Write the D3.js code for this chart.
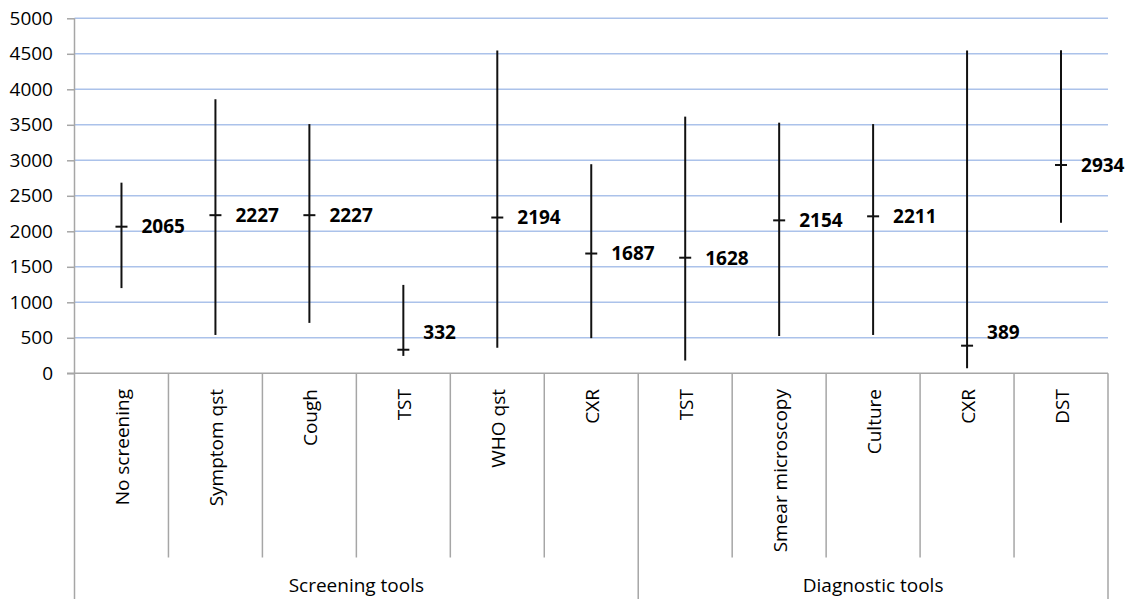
<!DOCTYPE html>
<html>
<head>
<meta charset="utf-8">
<script src="https://cdn.jsdelivr.net/npm/d3@7"></script>
<style>
  html, body { margin: 0; padding: 0; background: #fff; }
  svg { display: block; }
  text { font-family: "Open Sans", "DejaVu Sans", sans-serif; }
</style>
</head>
<body>
<svg id="chart" width="1128" height="599"></svg>
<script>
// Cost ranges per tool: low, high and central estimate
const categories = ["No screening", "Symptom qst", "Cough", "TST", "WHO qst", "CXR",
                    "TST", "Smear microscopy", "Culture", "CXR", "DST"];
const groupNames = ["Screening tools", "Diagnostic tools"];
const groupSizes = [6, 5];
const lowValues  = [1200, 540, 710, 245, 360, 495, 180, 525, 540, 70, 2120];
const highValues = [2685, 3860, 3510, 1245, 4545, 2945, 3615, 3530, 3510, 4545, 4550];
const midValues  = [2065, 2227, 2227, 332, 2194, 1687, 1628, 2154, 2211, 389, 2934];
const yTicks = [0, 500, 1000, 1500, 2000, 2500, 3000, 3500, 4000, 4500, 5000];

const svg = d3.select("#chart");
const plotLeft = 74.5, plotRight = 1108, plotTop = 18.3, plotBottom = 373.3, boxBottom = 599;

const idx = categories.map((_, i) => i);
const x = d3.scaleBand().domain(idx).range([plotLeft, plotRight]).paddingInner(0).paddingOuter(0);
const y = d3.scaleLinear().domain([0, 5000]).range([plotBottom, plotTop]);

const gridColor = "#abc2ea";
const axisColor = "#a6a6a6";

// horizontal gridlines
svg.append("g")
  .selectAll("line")
  .data(yTicks.filter(t => t > 0))
  .join("line")
  .attr("x1", plotLeft).attr("x2", plotRight)
  .attr("y1", d => y(d)).attr("y2", d => y(d))
  .attr("stroke", gridColor)
  .attr("stroke-width", 1.4);

// value axis
const yAxis = d3.axisLeft(y).tickValues(yTicks).tickSize(7.5).tickPadding(14).tickFormat(d3.format("d"));
const gy = svg.append("g").attr("transform", `translate(${plotLeft},0)`).call(yAxis);
gy.select(".domain").remove();
gy.selectAll(".tick line").attr("stroke", axisColor).attr("stroke-width", 1.5);
gy.selectAll(".tick text")
  .attr("fill", "#000")
  .style("font-size", "19px")
  .style("font-family", "'Open Sans', sans-serif");

// axis frame: left spine and category baseline
svg.append("line")
  .attr("x1", plotLeft).attr("x2", plotLeft).attr("y1", plotTop).attr("y2", boxBottom)
  .attr("stroke", axisColor).attr("stroke-width", 1.5);
svg.append("line")
  .attr("x1", plotLeft - 7.5).attr("x2", plotRight).attr("y1", plotBottom).attr("y2", plotBottom)
  .attr("stroke", axisColor).attr("stroke-width", 1.5);

// separators between categories; group boundaries run to the bottom
const groupEnds = d3.cumsum(groupSizes);
const bounds = d3.range(1, categories.length + 1);
svg.append("g")
  .selectAll("line")
  .data(bounds)
  .join("line")
  .attr("x1", d => d < categories.length ? x(d) : plotRight)
  .attr("x2", d => d < categories.length ? x(d) : plotRight)
  .attr("y1", plotBottom)
  .attr("y2", d => groupEnds.includes(d) ? boxBottom : 557.5)
  .attr("stroke", axisColor).attr("stroke-width", 1.5);

// rotated category labels
svg.append("g")
  .selectAll("text")
  .data(idx)
  .join("text")
  .attr("transform", i => `translate(${x(i) + x.bandwidth() / 2 + 7.5},389) rotate(-90)`)
  .attr("text-anchor", "end")
  .attr("fill", "#000")
  .style("font-size", "19px")
  .text(i => categories[i]);

// group labels
const groupStarts = [0, ...groupEnds.slice(0, -1)];
svg.append("g")
  .selectAll("text")
  .data(groupNames)
  .join("text")
  .attr("x", (d, g) => {
    const a = x(groupStarts[g]);
    const b = groupEnds[g] < categories.length ? x(groupEnds[g]) : plotRight;
    return (a + b) / 2;
  })
  .attr("y", 592)
  .attr("text-anchor", "middle")
  .attr("fill", "#000")
  .style("font-size", "19px")
  .text(d => d);

// high-low ranges
const cx = i => x(i) + x.bandwidth() / 2;
svg.append("g")
  .selectAll("line")
  .data(idx)
  .join("line")
  .attr("x1", cx).attr("x2", cx)
  .attr("y1", i => y(highValues[i])).attr("y2", i => y(lowValues[i]))
  .attr("stroke", "#111").attr("stroke-width", 2);

// central estimate markers
svg.append("g")
  .selectAll("line")
  .data(idx)
  .join("line")
  .attr("x1", i => cx(i) - 6).attr("x2", i => cx(i) + 6)
  .attr("y1", i => y(midValues[i])).attr("y2", i => y(midValues[i]))
  .attr("stroke", "#111").attr("stroke-width", 2);

// value labels, kept clear of the category baseline
const labelFloor = y(580);
svg.append("g")
  .selectAll("text")
  .data(idx)
  .join("text")
  .attr("x", i => cx(i) + 20)
  .attr("y", i => Math.min(y(midValues[i]), labelFloor) + 6.8)
  .attr("fill", "#000")
  .style("font-size", "19px")
  .style("font-weight", "bold")
  .text(i => midValues[i]);
</script>
</body>
</html>
